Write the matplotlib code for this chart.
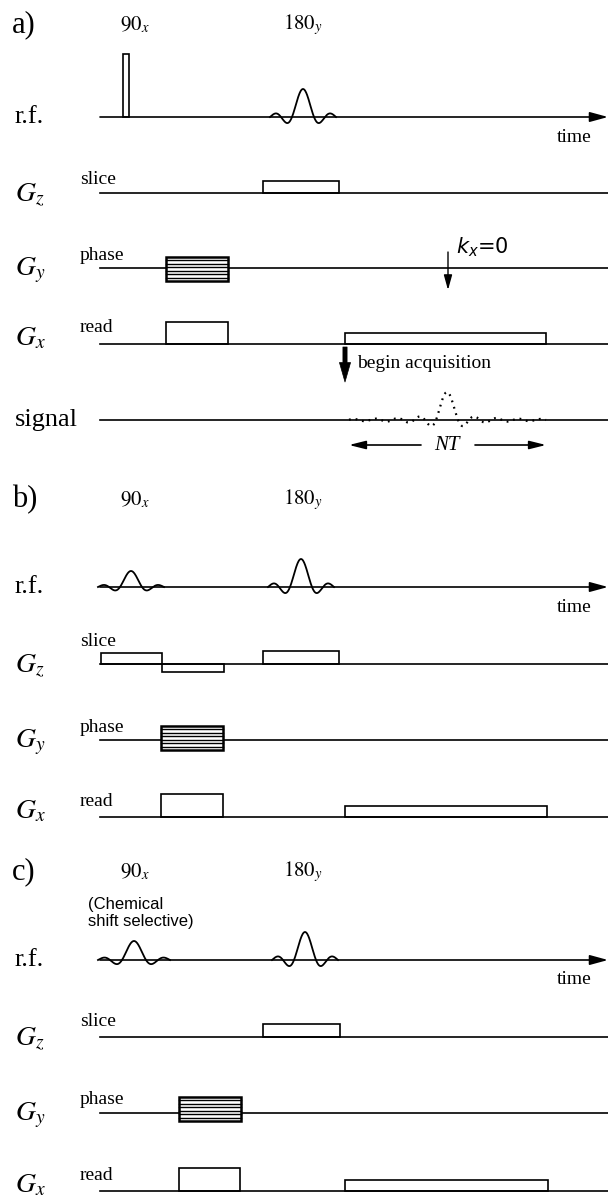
import numpy as np
import matplotlib.pyplot as plt
from matplotlib.patches import Rectangle

plt.rcParams['font.family'] = ['Liberation Serif', 'DejaVu Serif']
plt.rcParams['mathtext.fontset'] = 'stix'

# pulse sequence timings (x in figure pixels), amplitudes in pixels
panels = ['a)', 'b)', 'c)']
exc_kind = ['hard', 'sinc', 'sinc']
exc_center = [126, 131, 134]
exc_height = [63, 16, 19]
exc_scale = [3, 11, 12]          # hard pulse half width / sinc lobe width
ref_center = [303, 301, 305]
ref_height = [28, 28, 28]
ref_scale = 11

gz_lobes = [[(263, 339, 12)],
            [(101, 162, 11), (162, 224, -8), (263, 339, 13)],
            [(263, 340, 13)]]
gy_tables = [(166, 228, 11, 13), (161, 223, 14, 10), (179, 241, 16, 8)]
gx_lobes = [[(166, 228, 22), (345, 546, 11)],
            [(161, 223, 23), (345, 547, 11)],
            [(179, 240, 23), (345, 548, 11)]]

echo_start, echo_center, echo_end, echo_height = 349, 447, 546, 28
kx0_time = 448
acq_time = 345

# layout: baselines of each row
label_y = [25, 500, 872]
rf_y = [117, 587, 960]
gz_y = [193, 664, 1037]
gz_label_dy = [-13, -22, -15]
gy_y = [268, 740, 1113]
gx_y = [344, 817, 1191]
signal_y = 420
x0, x1 = 100, 608

fig = plt.figure(figsize=(6.08, 11.97), dpi=100)
ax = fig.add_axes([0, 0, 1, 1])
ax.set_xlim(0, 608)
ax.set_ylim(1197, 0)
ax.axis('off')

LW = 1.2


def lobe_boxes(y, lobes):
    ax.plot([x0, x1], [y, y], color='k', lw=LW)
    for s, e, a in lobes:
        ax.add_patch(Rectangle((s, min(y, y - a)), e - s, abs(a),
                               fill=False, ec='k', lw=LW, joinstyle='miter'))


def sinc_pulse(c, h, scale, y):
    t = np.linspace(-3, 3, 200)
    ax.plot(c + t * scale, y - h * np.sinc(t), color='k', lw=1.3)


for i in range(3):
    ax.text(12, label_y[i], panels[i], fontsize=22, va='center', ha='left')
    ax.text(120, label_y[i], r'$\mathrm{90}_x$', fontsize=15, va='center')
    ax.text(283, label_y[i], r'$\mathrm{180}_y$', fontsize=15, va='center')

    # r.f. row
    y = rf_y[i]
    ax.text(15, y, 'r.f.', fontsize=19, va='center')
    ax.annotate('', xy=(x1, y), xytext=(x0, y),
                arrowprops=dict(arrowstyle='-|>,head_length=1.1,head_width=0.3',
                                color='k', lw=LW, shrinkA=0, shrinkB=0))
    ax.text(557, y + 20, 'time', fontsize=14, va='center')
    if exc_kind[i] == 'hard':
        c, w = exc_center[i], exc_scale[i]
        ax.add_patch(Rectangle((c - w, y - exc_height[i]), 2 * w, exc_height[i],
                               fill=False, ec='k', lw=LW))
    else:
        sinc_pulse(exc_center[i], exc_height[i], exc_scale[i], y)
    sinc_pulse(ref_center[i], ref_height[i], ref_scale, y)

    # Gz
    y = gz_y[i]
    ax.text(15, y + 2, r'$G_z$', fontsize=20, va='center')
    ax.text(80, y + gz_label_dy[i], 'slice', fontsize=14, va='center')
    lobe_boxes(y, gz_lobes[i])

    # Gy
    y = gy_y[i]
    ax.text(15, y + 2, r'$G_y$', fontsize=20, va='center')
    ax.text(80, y - 13, 'phase', fontsize=14, va='center')
    ax.plot([x0, x1], [y, y], color='k', lw=LW)
    s, e, up, dn = gy_tables[i]
    ax.add_patch(Rectangle((s, y - up), e - s, up + dn, fill=True,
                           fc='white', ec='k', lw=1.8, zorder=3))
    for ly in np.linspace(y - up, y + dn, 8)[1:-1]:
        ax.plot([s, e], [ly, ly], color='k', lw=1.0, zorder=4)

    # Gx
    y = gx_y[i]
    ax.text(15, y - 5, r'$G_x$', fontsize=20, va='center')
    ax.text(80, y - 16, 'read', fontsize=14, va='center')
    lobe_boxes(y, gx_lobes[i])

# panel a extras
ax.annotate('', xy=(kx0_time, 290), xytext=(kx0_time, 252),
            arrowprops=dict(arrowstyle='-|>,head_length=0.9,head_width=0.25',
                            color='k', lw=1.0, shrinkA=0, shrinkB=0))
ax.text(456, 247, r'$k_x$=0', fontsize=15, va='center',
        family='DejaVu Sans', math_fontfamily='dejavusans')

ax.annotate('', xy=(acq_time, 382), xytext=(acq_time, 347),
            arrowprops=dict(arrowstyle='simple,head_length=1.4,head_width=0.8,tail_width=0.3',
                            color='k', lw=0.5, shrinkA=0, shrinkB=0))
ax.text(357, 363, 'begin acquisition', fontsize=14, va='center')

ax.text(15, signal_y, 'signal', fontsize=19, va='center')
ax.plot([x0, x1], [signal_y, signal_y], color='k', lw=LW)
t = np.linspace(echo_start, echo_end, 400)
ax.plot(t, signal_y - echo_height * np.sinc((t - echo_center) / 11.0),
        color='k', lw=1.6, ls=(0, (0.8, 2.2)))

ax.annotate('', xy=(echo_start, 445), xytext=(421, 445),
            arrowprops=dict(arrowstyle='-|>,head_length=1.0,head_width=0.25',
                            color='k', lw=LW, shrinkA=0, shrinkB=0))
ax.annotate('', xy=(echo_end, 445), xytext=(475, 445),
            arrowprops=dict(arrowstyle='-|>,head_length=1.0,head_width=0.25',
                            color='k', lw=LW, shrinkA=0, shrinkB=0))
ax.text(echo_center, 445, 'NT', fontsize=15, style='italic', va='center', ha='center')

# panel c note
ax.text(88, 913, '(Chemical\nshift selective)', fontsize=12, va='center',
        family='Liberation Sans', linespacing=1.15)

fig.savefig('out.png', dpi=100)
